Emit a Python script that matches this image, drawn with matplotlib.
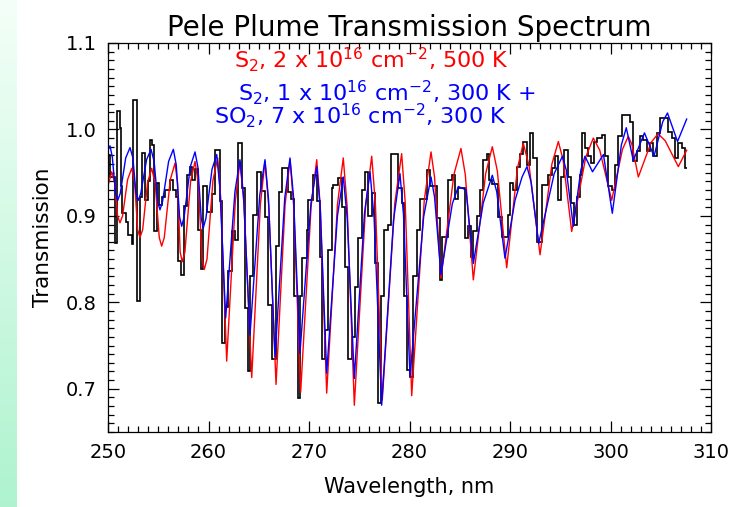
import numpy as np
import matplotlib
matplotlib.use("Agg")
import matplotlib.pyplot as plt
from matplotlib.ticker import MultipleLocator

# model: S2 at 500 K (red)
red_wl = [250.00, 250.37, 250.66, 250.95, 251.19, 251.45, 251.95, 252.36, 252.65, 252.95,
          253.18, 253.45, 253.94, 254.35, 254.70, 255.10, 255.34, 255.60, 256.20, 256.67,
          256.92, 257.18, 257.39, 257.65, 258.22, 258.66, 258.98, 259.36, 259.58, 259.85,
          260.44, 260.91, 261.22, 261.81, 262.67, 263.13, 263.54, 264.30, 265.16, 265.62,
          266.00, 266.72, 267.62, 268.11, 268.48, 269.17, 270.21, 270.77, 271.12, 271.76,
          272.83, 273.41, 273.80, 274.51, 275.63, 276.24, 276.61, 277.29, 278.54, 279.22,
          279.57, 280.22, 281.47, 282.14, 282.49, 283.13, 284.42, 285.12, 285.55, 286.35,
          287.58, 288.24, 288.74, 289.67, 290.74, 291.32, 291.90, 292.99, 294.17, 294.81,
          295.28, 296.14, 297.54, 298.29, 298.93, 300.12, 301.19, 301.77, 302.12, 302.77,
          304.04, 304.73, 305.44, 306.75, 307.58]
red_t = [0.935, 0.951, 0.939, 0.900, 0.892, 0.900, 0.942, 0.955, 0.939, 0.884,
         0.875, 0.884, 0.939, 0.955, 0.937, 0.875, 0.865, 0.875, 0.942, 0.961,
         0.938, 0.858, 0.847, 0.858, 0.940, 0.963, 0.938, 0.850, 0.838, 0.850,
         0.941, 0.967, 0.920, 0.732, 0.917, 0.963, 0.913, 0.713, 0.913, 0.963,
         0.911, 0.705, 0.913, 0.965, 0.911, 0.696, 0.911, 0.965, 0.911, 0.695,
         0.913, 0.967, 0.910, 0.681, 0.911, 0.969, 0.913, 0.687, 0.915, 0.972,
         0.916, 0.692, 0.918, 0.974, 0.945, 0.828, 0.948, 0.978, 0.948, 0.826,
         0.949, 0.980, 0.952, 0.840, 0.955, 0.984, 0.958, 0.855, 0.960, 0.986,
         0.965, 0.882, 0.968, 0.990, 0.976, 0.918, 0.977, 0.992, 0.983, 0.945,
         0.985, 0.995, 0.987, 0.957, 0.976]

# model: S2 + SO2 at 300 K (blue)
blue_wl = [250.00, 250.20, 250.43, 250.75, 250.97, 251.22, 251.76, 252.19, 252.48, 252.78,
           253.01, 253.26, 253.84, 254.28, 254.59, 254.95, 255.17, 255.42, 256.03, 256.50,
           256.79, 257.12, 257.33, 257.58, 258.19, 258.66, 258.95, 259.28, 259.48, 259.74,
           260.35, 260.82, 261.13, 261.71, 262.63, 263.13, 263.48, 264.13, 265.10, 265.62,
           265.97, 266.62, 267.59, 268.11, 268.46, 269.10, 270.19, 270.77, 271.12, 271.76,
           272.83, 273.41, 273.80, 274.51, 275.52, 276.07, 276.48, 277.23, 278.41, 279.05,
           279.40, 280.05, 281.41, 282.14, 282.49, 283.13, 284.26, 284.86, 285.62, 286.35,
           287.34, 288.24, 288.68, 289.50, 290.50, 291.20, 291.69, 292.10, 292.85, 294.40,
           295.22, 295.60, 296.30, 297.05, 297.46, 298.21, 299.30, 300.18, 301.08, 301.57,
           302.27, 303.38, 304.33, 305.20, 305.67, 306.67, 307.58]
blue_t = [0.976, 0.981, 0.968, 0.926, 0.918, 0.926, 0.967, 0.979, 0.967, 0.926,
          0.918, 0.926, 0.965, 0.977, 0.963, 0.916, 0.907, 0.916, 0.963, 0.977,
          0.959, 0.899, 0.888, 0.899, 0.957, 0.974, 0.956, 0.897, 0.886, 0.897,
          0.954, 0.971, 0.933, 0.782, 0.928, 0.965, 0.924, 0.762, 0.924, 0.965,
          0.919, 0.737, 0.921, 0.967, 0.922, 0.741, 0.914, 0.957, 0.909, 0.718,
          0.900, 0.945, 0.898, 0.712, 0.903, 0.951, 0.897, 0.681, 0.895, 0.949,
          0.902, 0.714, 0.899, 0.945, 0.922, 0.832, 0.914, 0.934, 0.930, 0.845,
          0.915, 0.947, 0.928, 0.851, 0.918, 0.945, 0.957, 0.939, 0.868, 0.949,
          0.969, 0.953, 0.888, 0.953, 0.969, 0.951, 0.971, 0.903, 0.982, 1.002,
          0.964, 0.996, 0.969, 1.009, 1.019, 0.986, 1.012]

# observed spectrum (black histogram), bin edges and values
obs_edges = [250.00, 250.20, 250.70, 250.90, 251.19, 251.29, 251.39, 251.79, 251.96, 252.36,
             252.52, 252.86, 253.18, 253.35, 253.68, 253.95, 254.18, 254.35, 254.61, 254.85,
             255.07, 255.40, 255.67, 256.17, 256.50, 256.74, 256.94, 257.26, 257.59, 257.83,
             258.16, 258.39, 258.66, 258.99, 259.25, 259.48, 259.82, 260.32, 260.65, 261.14,
             261.37, 261.64, 261.97, 262.31, 262.64, 262.97, 263.30, 263.63, 263.90, 264.13,
             264.46, 264.80, 265.22, 265.62, 265.95, 266.29, 266.69, 267.01, 267.34, 267.88,
             268.21, 268.54, 268.88, 269.10, 269.33, 269.77, 269.93, 270.43, 270.77, 271.09,
             271.26, 271.59, 271.92, 272.26, 272.42, 272.92, 273.25, 273.58, 273.91, 274.25,
             274.58, 274.91, 275.24, 275.57, 275.90, 276.24, 276.57, 276.84, 277.16, 277.49,
             277.83, 278.16, 278.89, 279.22, 279.48, 279.72, 280.05, 280.38, 280.72, 281.04,
             281.71, 282.04, 282.71, 283.03, 283.26, 283.86, 284.20, 284.53, 284.86, 285.52,
             285.79, 286.12, 286.35, 286.69, 287.01, 287.34, 287.68, 287.91, 288.18, 288.84,
             289.17, 289.50, 289.77, 290.00, 290.33, 290.67, 291.00, 291.32, 291.66, 291.99,
             292.32, 292.66, 293.15, 293.81, 294.15, 294.48, 294.81, 295.07, 295.40, 295.74,
             296.07, 296.40, 296.64, 296.97, 297.19, 297.46, 297.79, 298.06, 298.39, 298.63,
             299.12, 299.45, 299.78, 300.12, 300.45, 300.78, 301.11, 301.94, 302.27, 302.61,
             302.94, 303.27, 303.60, 303.93, 304.26, 304.60, 304.93, 305.75, 306.09, 306.42,
             306.75, 307.08, 307.41, 307.61]
obs_t = [0.970, 0.945, 0.869, 1.021, 1.002, 0.934, 0.903, 0.893, 0.878, 0.868,
         1.034, 0.802, 0.922, 0.973, 0.918, 0.940, 0.988, 0.982, 0.882, 0.938,
         0.913, 0.922, 0.930, 0.942, 0.930, 0.922, 0.848, 0.832, 0.911, 0.947,
         0.957, 0.942, 0.954, 0.884, 0.838, 0.934, 0.905, 0.925, 0.976, 0.917,
         0.753, 0.795, 0.836, 0.882, 0.872, 0.984, 0.932, 0.793, 0.720, 0.830,
         0.901, 0.951, 0.929, 0.899, 0.797, 0.735, 0.865, 0.928, 0.955, 0.928,
         0.920, 0.807, 0.689, 0.807, 0.851, 0.884, 0.918, 0.947, 0.917, 0.853,
         0.735, 0.768, 0.861, 0.932, 0.936, 0.944, 0.910, 0.841, 0.735, 0.760,
         0.818, 0.874, 0.930, 0.951, 0.900, 0.926, 0.845, 0.683, 0.807, 0.884,
         0.890, 0.972, 0.932, 0.915, 0.807, 0.722, 0.714, 0.830, 0.884, 0.920,
         0.953, 0.934, 0.897, 0.826, 0.876, 0.942, 0.947, 0.920, 0.932, 0.874,
         0.888, 0.853, 0.882, 0.900, 0.930, 0.965, 0.972, 0.942, 0.937, 0.899,
         0.876, 0.876, 0.901, 0.938, 0.930, 0.957, 0.972, 0.986, 0.959, 0.996,
         0.967, 0.870, 0.936, 0.947, 0.955, 0.969, 0.918, 0.945, 0.976, 0.945,
         0.915, 0.890, 0.922, 0.947, 0.996, 0.978, 0.969, 0.961, 0.986, 0.990,
         0.994, 0.969, 0.934, 0.930, 0.959, 0.992, 1.017, 1.009, 0.963, 0.975,
         0.992, 0.988, 0.975, 0.984, 0.969, 0.996, 1.013, 0.997, 0.990, 0.967,
         0.984, 0.978, 0.955]

fig = plt.figure(figsize=(7.31, 5.07), dpi=100)
fig.patch.set_facecolor("white")

# pale green strip down the left edge
strip = fig.add_axes([0, 0, 17 / 731, 1])
grad = np.linspace(0, 1, 256).reshape(-1, 1)
strip.imshow(grad, aspect="auto", origin="upper",
             cmap=matplotlib.colors.LinearSegmentedColormap.from_list(
                 "g", ["#f4fff8", "#aef3cf"]))
strip.axis("off")

ax = fig.add_axes([108 / 731, 1 - 432 / 507, 603 / 731, 389 / 507])

ax.stairs(obs_t, obs_edges, baseline=None, color="black", lw=1.2)
ax.plot(red_wl, red_t, color="#ff0000", lw=1.0)
ax.plot(blue_wl, blue_t, color="#0000ff", lw=1.0)

ax.set_xlim(250, 310)
ax.set_ylim(0.65, 1.1)
ax.xaxis.set_major_locator(MultipleLocator(10))
ax.xaxis.set_minor_locator(MultipleLocator(1))
ax.yaxis.set_major_locator(MultipleLocator(0.1))
ax.yaxis.set_minor_locator(MultipleLocator(0.01))
ax.tick_params(which="both", direction="in", top=True, right=True,
               labelsize=14, width=0.9)
ax.tick_params(which="major", length=8, pad=8)
ax.tick_params(which="minor", length=4)
for s in ax.spines.values():
    s.set_linewidth(0.9)

ax.set_title("Pele Plume Transmission Spectrum", fontsize=20, pad=5)
ax.set_xlabel("Wavelength, nm", fontsize=15, labelpad=11)
ax.set_ylabel("Transmission", fontsize=15.5, labelpad=9)

ax.text(0.437, 0.936, r"S$_2$, 2 x 10$^{16}$ cm$^{-2}$, 500 K", color="#ff0000",
        fontsize=16, ha="center", va="baseline", transform=ax.transAxes)
ax.text(0.462, 0.853, r"S$_2$, 1 x 10$^{16}$ cm$^{-2}$, 300 K +", color="#0000ff",
        fontsize=16, ha="center", va="baseline", transform=ax.transAxes)
ax.text(0.419, 0.792, r"SO$_2$, 7 x 10$^{16}$ cm$^{-2}$, 300 K", color="#0000ff",
        fontsize=16, ha="center", va="baseline", transform=ax.transAxes)

fig.savefig("out.png", dpi=100)
